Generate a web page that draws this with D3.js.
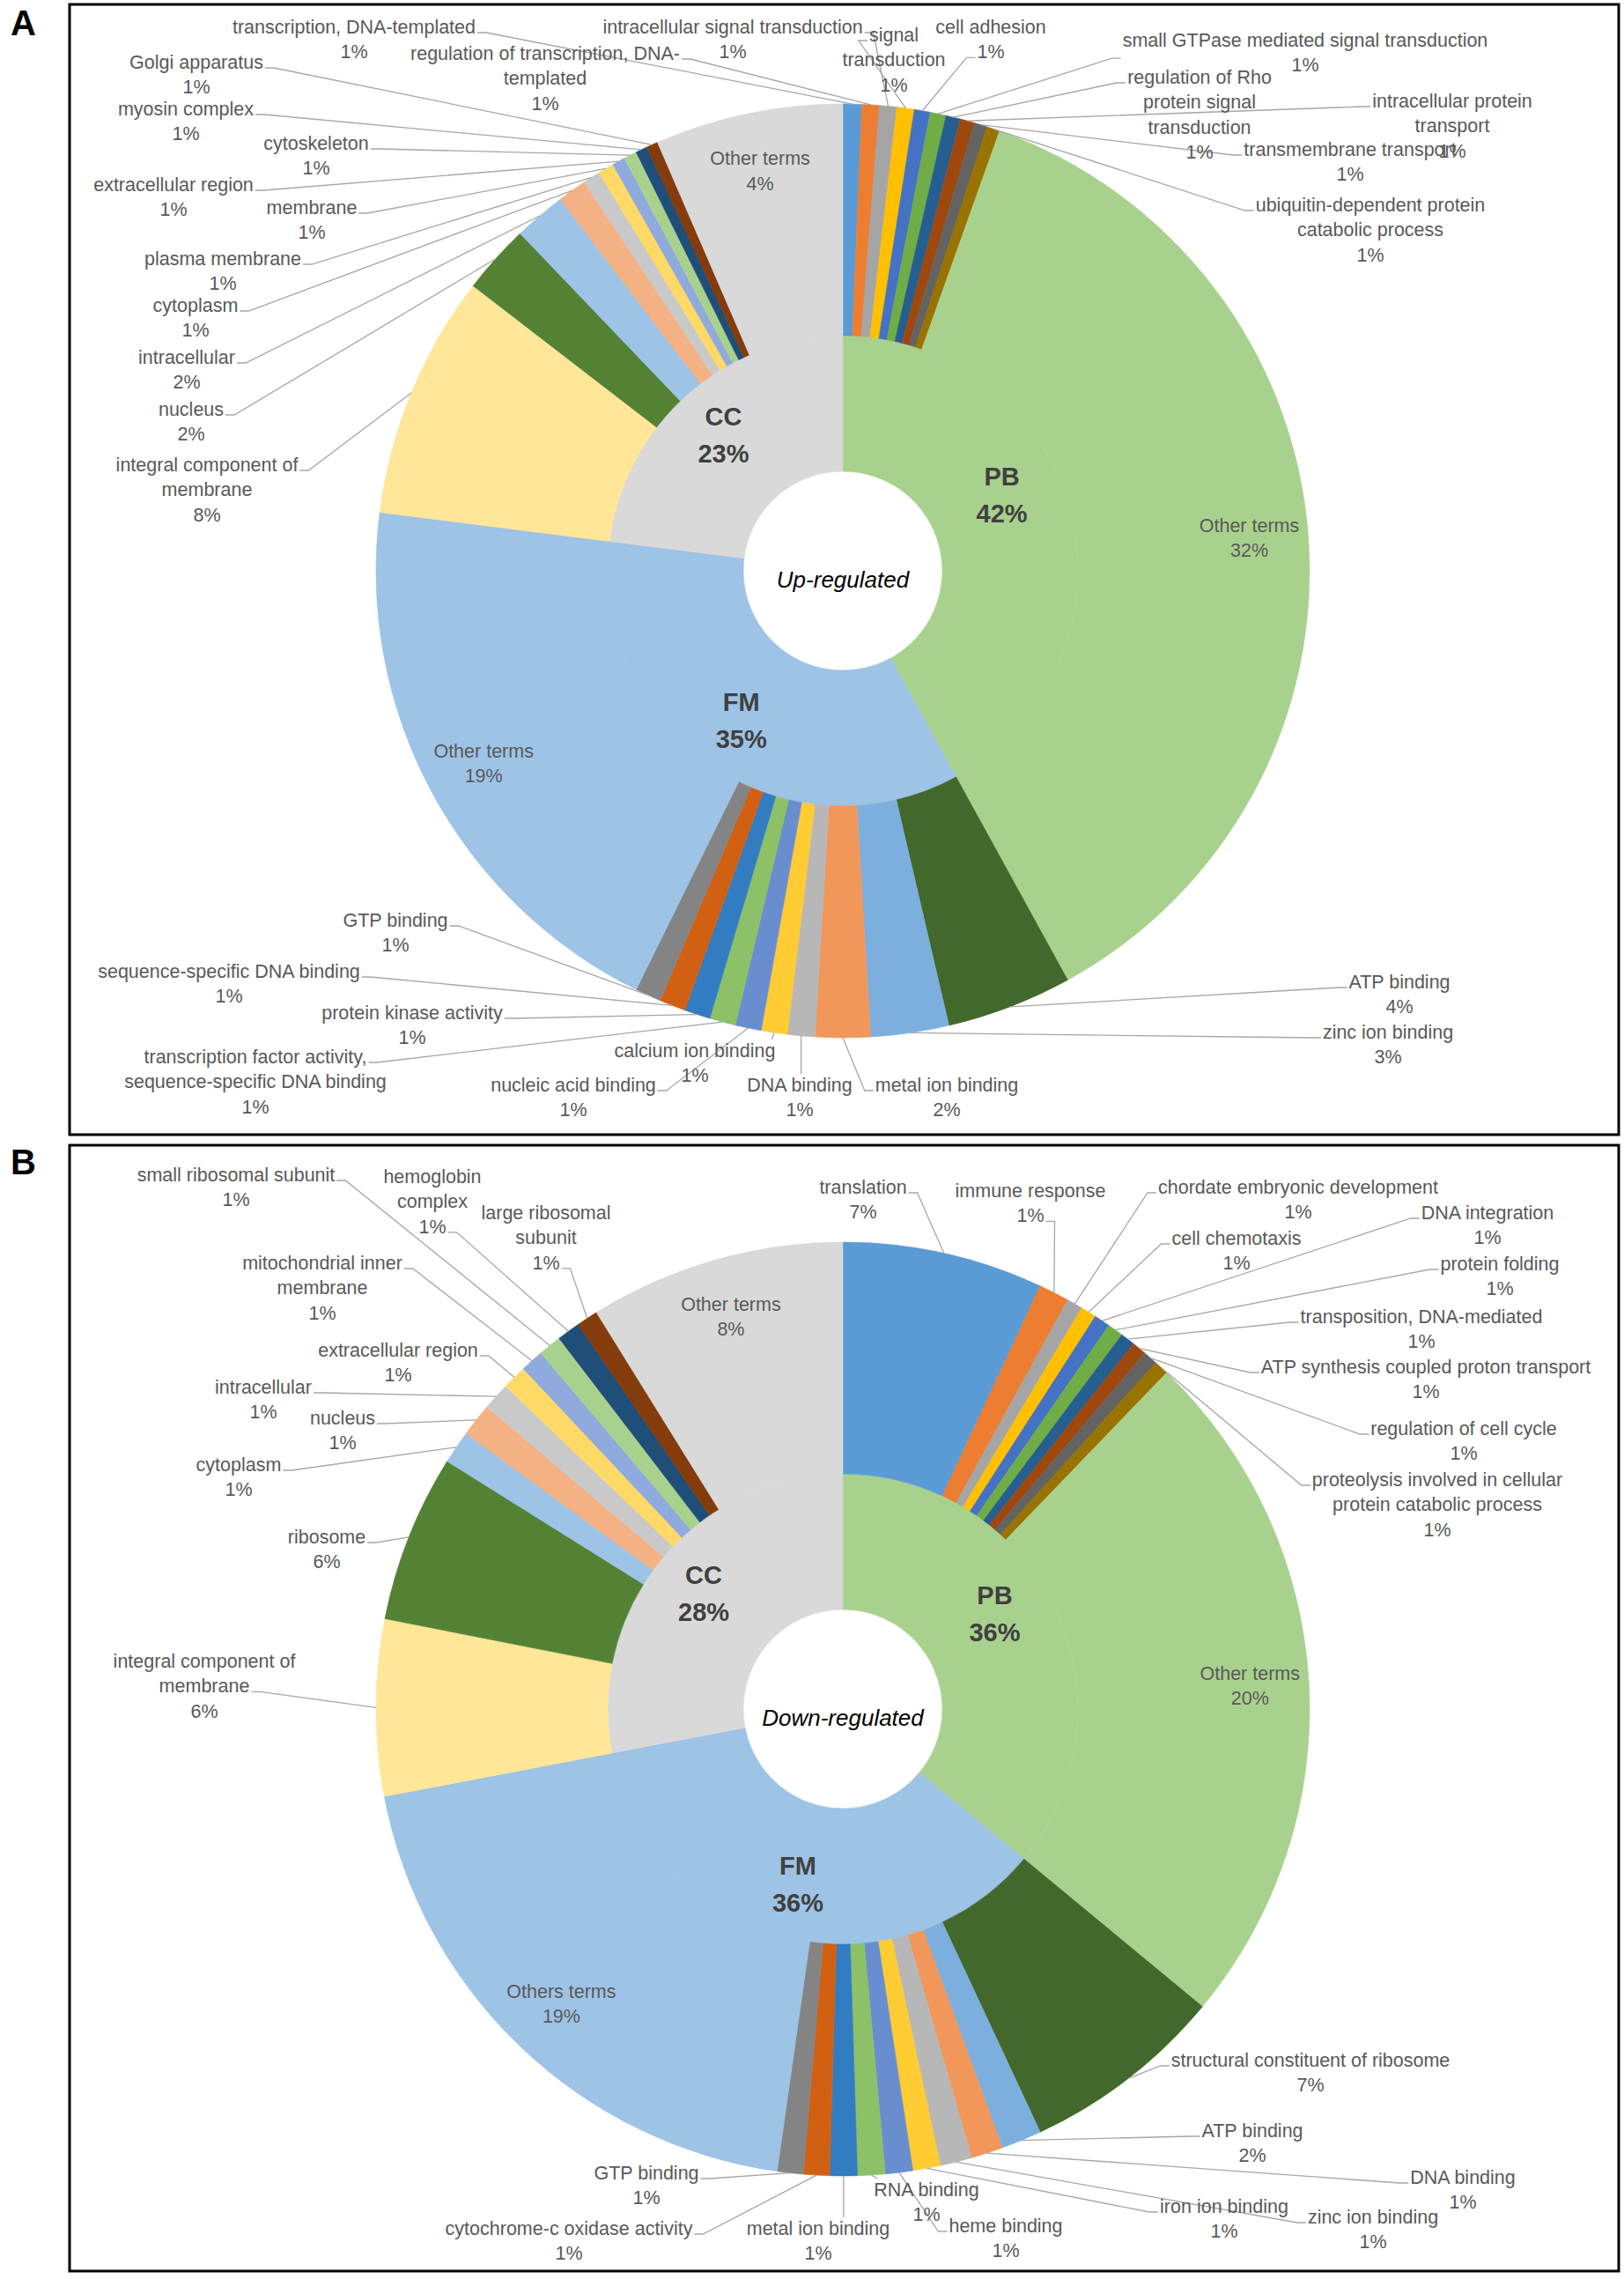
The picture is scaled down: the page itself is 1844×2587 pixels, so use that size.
<!DOCTYPE html>
<html>
<head>
<meta charset="utf-8">
<script src="https://cdn.jsdelivr.net/npm/d3@7"></script>
<style>
  body { margin: 0; background: #fff; }
  text { font-family: "Liberation Sans", Arial, sans-serif; }
</style>
</head>
<body>
<div id="chart"></div>
<script>
// ---- data ----
var groupNames = ["PB", "FM", "CC"];
var upGroupValues = [42, 35, 23];
var downGroupValues = [36, 36, 28];

// terms in clockwise order, 11 per group (last one of each group is "Other terms")
var upTerms = [
  "transcription, DNA-templated",
  "regulation of transcription, DNA-\ntemplated",
  "intracellular signal transduction",
  "signal\ntransduction",
  "cell adhesion",
  "small GTPase mediated signal transduction",
  "regulation of Rho\nprotein signal\ntransduction",
  "intracellular protein\ntransport",
  "transmembrane transport",
  "ubiquitin-dependent protein\ncatabolic process",
  "Other terms",
  "ATP binding", "zinc ion binding", "metal ion binding", "DNA binding",
  "calcium ion binding", "nucleic acid binding",
  "transcription factor activity,\nsequence-specific DNA binding",
  "protein kinase activity", "sequence-specific DNA binding", "GTP binding",
  "Other terms",
  "integral component of\nmembrane", "nucleus", "intracellular", "cytoplasm",
  "plasma membrane", "membrane", "extracellular region", "cytoskeleton",
  "myosin complex", "Golgi apparatus", "Other terms"
];
// slice sizes (share of the ring, %)
var upValues = [
  0.65, 0.6, 0.6, 0.6, 0.55, 0.55, 0.5, 0.5, 0.45, 0.45, 36.55,
  4.35, 2.7, 1.9, 0.95, 0.9, 0.9, 0.9, 0.9, 0.9, 0.9, 19.7,
  8.45, 2.4, 1.8, 1.0, 0.6, 0.55, 0.45, 0.45, 0.4, 0.4, 6.5
];
// percentages printed on the labels
var upPct = [
  1, 1, 1, 1, 1, 1, 1, 1, 1, 1, 32,
  4, 3, 2, 1, 1, 1, 1, 1, 1, 1, 19,
  8, 2, 2, 1, 1, 1, 1, 1, 1, 1, 4
];

var downTerms = [
  "translation", "immune response", "chordate embryonic development",
  "cell chemotaxis", "DNA integration", "protein folding",
  "transposition, DNA-mediated", "ATP synthesis coupled proton transport",
  "regulation of cell cycle",
  "proteolysis involved in cellular\nprotein catabolic process",
  "Other terms",
  "structural constituent of ribosome", "ATP binding", "DNA binding",
  "zinc ion binding", "iron ion binding", "heme binding", "RNA binding",
  "metal ion binding", "cytochrome-c oxidase activity", "GTP binding",
  "Others terms",
  "integral component of\nmembrane", "ribosome", "cytoplasm", "nucleus",
  "intracellular", "extracellular region", "mitochondrial inner\nmembrane",
  "small ribosomal subunit", "hemoglobin\ncomplex", "large ribosomal\nsubunit",
  "Other terms"
];
var downValues = [
  6.95, 1.05, 0.55, 0.55, 0.55, 0.55, 0.5, 0.5, 0.5, 0.5, 23.8,
  7.05, 1.4, 1.1, 1.1, 0.95, 0.95, 0.95, 0.95, 0.9, 0.9, 19.75,
  6.1, 5.8, 1.15, 1.15, 0.95, 0.85, 0.8, 0.8, 0.8, 0.75, 8.85
];
var downPct = [
  7, 1, 1, 1, 1, 1, 1, 1, 1, 1, 20,
  7, 2, 1, 1, 1, 1, 1, 1, 1, 1, 19,
  6, 6, 1, 1, 1, 1, 1, 1, 1, 1, 8
];

// ---- styles ----
var groupColors = ["#a9d18e", "#9dc3e6", "#d9d9d9"];
var termColors = [
  "#5b9bd5", "#ed7d31", "#a5a5a5", "#ffc000", "#4472c4", "#70ad47",
  "#255e91", "#9e480e", "#636363", "#997300", "#a9d18e",
  "#43682b", "#7cafdd", "#f1975a", "#b7b7b7", "#ffcd33", "#698ed0",
  "#8cc168", "#327dc2", "#d26012", "#848484", "#9dc3e6",
  "#ffe699", "#548235", "#9dc3e6", "#f4b183", "#c9c9c9", "#ffd966",
  "#8faadc", "#a9d18e", "#1f4e79", "#843c0c", "#d9d9d9"
];

// ---- label layout: [x, y of first line, side the leader leaves from, row]; null = inside slice ----
var upLabelPos = [
  [402, 31, "R", 0], [619, 61, "R", 0], [832, 31, "R", 0], [1015, 40, "L", 0],
  [1125, 31, "L", 1], [1482, 46, "L", 0.5], [1362, 88, "L", 0], [1649, 115, "L", 0],
  [1533, 170, "L", 0], [1556, 233, "L", 0], null,
  [1589, 1115, "L", 0], [1576, 1172, "L", 0], [1075, 1232, "L", 0], [908, 1232, "T", 0],
  [789, 1193, "T", 0], [651, 1232, "R", 0], [290, 1200, "R", 0], [468, 1150, "R", 0],
  [260, 1103, "R", 0], [449, 1045, "R", 0], null,
  [235, 528, "R", 0], [217, 465, "R", 0], [212, 406, "R", 0], [222, 347, "R", 0],
  [253, 294, "R", 0], [354, 236, "R", 0], [197, 210, "R", 0], [359, 163, "R", 0],
  [211, 124, "R", 0], [223, 71, "R", 0], null
];
var downLabelPos = [
  [980, 1348, "R", 0], [1170, 1352, "R", 1], [1474, 1348, "L", 0], [1404, 1406, "L", 0],
  [1689, 1377, "L", 0], [1703, 1435, "L", 0], [1614, 1495, "L", 0], [1619, 1552, "L", 0],
  [1662, 1622, "L", 0], [1632, 1680, "L", 0], null,
  [1488, 2339, "L", 0], [1422, 2419, "L", 0], [1661, 2472, "L", 0], [1559, 2517, "L", 0],
  [1390, 2505, "L", 0], [1142, 2527, "L", 0], [1052, 2486, "T", 0], [929, 2530, "T", 0],
  [646, 2530, "R", 0], [734, 2467, "R", 0], null,
  [232, 1886, "R", 1], [371, 1745, "R", 0], [271, 1663, "R", 0], [389, 1610, "R", 0],
  [299, 1575, "R", 0], [452, 1533, "R", 0], [366, 1434, "R", 0], [268, 1334, "R", 0],
  [491, 1336, "R", 2], [620, 1377, "R", 2], null
];

var W = 1844, H = 2587;
var rHole = 113, rMid = 267, rOuter = 530;
var lineH = 28.4;

var panels = [
  { letter: "A", letterY: 40, box: [79, 5, 1759, 1283], center: [957, 648],
    title: "Up-regulated", groups: upGroupValues, terms: upTerms, values: upValues,
    pct: upPct, layout: upLabelPos, shift: [[-18, -35], [0, 0], [0, 0]] },
  { letter: "B", letterY: 1333, box: [79, 1300, 1759, 1278], center: [957, 1940],
    title: "Down-regulated", groups: downGroupValues, terms: downTerms, values: downValues,
    pct: downPct, layout: downLabelPos, shift: [[-13, -21], [0, 0], [0, 0]] }
];

var svg = d3.select("#chart").append("svg")
  .attr("width", W)
  .attr("height", H);

svg.append("rect").attr("width", W).attr("height", H).attr("fill", "#fff");

var pie = d3.pie().sort(null).value(function(d) { return d; });
var innerArc = d3.arc().innerRadius(rHole).outerRadius(rMid);
var outerArc = d3.arc().innerRadius(rMid).outerRadius(rOuter);
var edgeArc = d3.arc().innerRadius(rOuter).outerRadius(rOuter);
var insideArc = d3.arc().innerRadius(396).outerRadius(530);
var groupLabelArc = d3.arc().innerRadius(142).outerRadius(268);
var line = d3.line();

panels.forEach(function(p) {
  var cx = p.center[0], cy = p.center[1];

  svg.append("rect")
    .attr("x", p.box[0]).attr("y", p.box[1])
    .attr("width", p.box[2]).attr("height", p.box[3])
    .attr("fill", "none").attr("stroke", "#000").attr("stroke-width", 3);

  svg.append("text")
    .attr("x", 12).attr("y", p.letterY)
    .attr("font-size", 40).attr("font-weight", "bold").attr("fill", "#000")
    .text(p.letter);

  var g = svg.append("g").attr("transform", "translate(" + cx + "," + cy + ")");
  var innerData = pie(p.groups);
  var outerData = pie(p.values);

  // inner ring
  g.selectAll("path.grp").data(innerData).enter().append("path")
    .attr("class", "grp")
    .attr("d", innerArc)
    .attr("fill", function(d, i) { return groupColors[i]; })
    .attr("stroke", function(d, i) { return groupColors[i]; })
    .attr("stroke-width", 0.6);

  // outer ring
  g.selectAll("path.term").data(outerData).enter().append("path")
    .attr("class", "term")
    .attr("d", outerArc)
    .attr("fill", function(d, i) { return termColors[i]; })
    .attr("stroke", function(d, i) { return termColors[i]; })
    .attr("stroke-width", 0.6);

  var lineLayer = svg.append("g");
  var textLayer = svg.append("g");

  // outer labels
  outerData.forEach(function(d, i) {
    var rows = p.terms[i].split("\n").concat([p.pct[i] + "%"]);
    var lay = p.layout[i];
    var t = textLayer.append("text")
      .attr("font-size", 21.5).attr("fill", "#595959")
      .attr("text-anchor", "middle").attr("dominant-baseline", "central");

    if (!lay) {
      var c = insideArc.centroid(d);
      rows.forEach(function(s, k) {
        t.append("tspan")
          .attr("x", cx + c[0])
          .attr("y", cy + c[1] + (k - (rows.length - 1) / 2) * lineH)
          .text(s);
      });
      return;
    }

    var widths = rows.map(function(s, k) {
      var ts = t.append("tspan").attr("x", lay[0]).attr("y", lay[1] + k * lineH).text(s);
      return ts.node().getComputedTextLength();
    });

    var e = edgeArc.centroid(d);
    var sp = [cx + e[0], cy + e[1]];
    var side = lay[2], row = lay[3];
    var rw = (row % 1 === 0) ? widths[row] : d3.max(widths);
    var ay = lay[1] + row * lineH + 6;
    var pts;
    if (side === "L") {
      var ax = lay[0] - rw / 2 - 2;
      pts = [[ax, ay], [ax - 10, ay], sp];
    } else if (side === "R") {
      var bx = lay[0] + rw / 2 + 2;
      pts = [[bx, ay], [bx + 10, ay], sp];
    } else {
      var w0 = widths[0];
      var tx = Math.max(lay[0] - w0 / 2 + 4, Math.min(lay[0] + w0 / 2 - 4, sp[0]));
      pts = [[tx, lay[1] - 13], sp];
    }
    lineLayer.append("path")
      .attr("d", line(pts))
      .attr("fill", "none")
      .attr("stroke", "#a6a6a6")
      .attr("stroke-width", 1.3);
  });

  // group labels on the inner ring
  innerData.forEach(function(d, i) {
    var c = groupLabelArc.centroid(d);
    var x = cx + c[0] + p.shift[i][0], y = cy + c[1] + p.shift[i][1];
    var t = textLayer.append("text")
      .attr("font-size", 29).attr("font-weight", "bold").attr("fill", "#404040")
      .attr("text-anchor", "middle").attr("dominant-baseline", "central");
    t.append("tspan").attr("x", x).attr("y", y - 21).text(groupNames[i]);
    t.append("tspan").attr("x", x).attr("y", y + 21).text(p.groups[i] + "%");
  });

  // centre title
  textLayer.append("text")
    .attr("x", cx).attr("y", cy + 10)
    .attr("font-size", 26).attr("font-style", "italic").attr("fill", "#000")
    .attr("text-anchor", "middle").attr("dominant-baseline", "central")
    .text(p.title);
});
</script>
</body>
</html>
